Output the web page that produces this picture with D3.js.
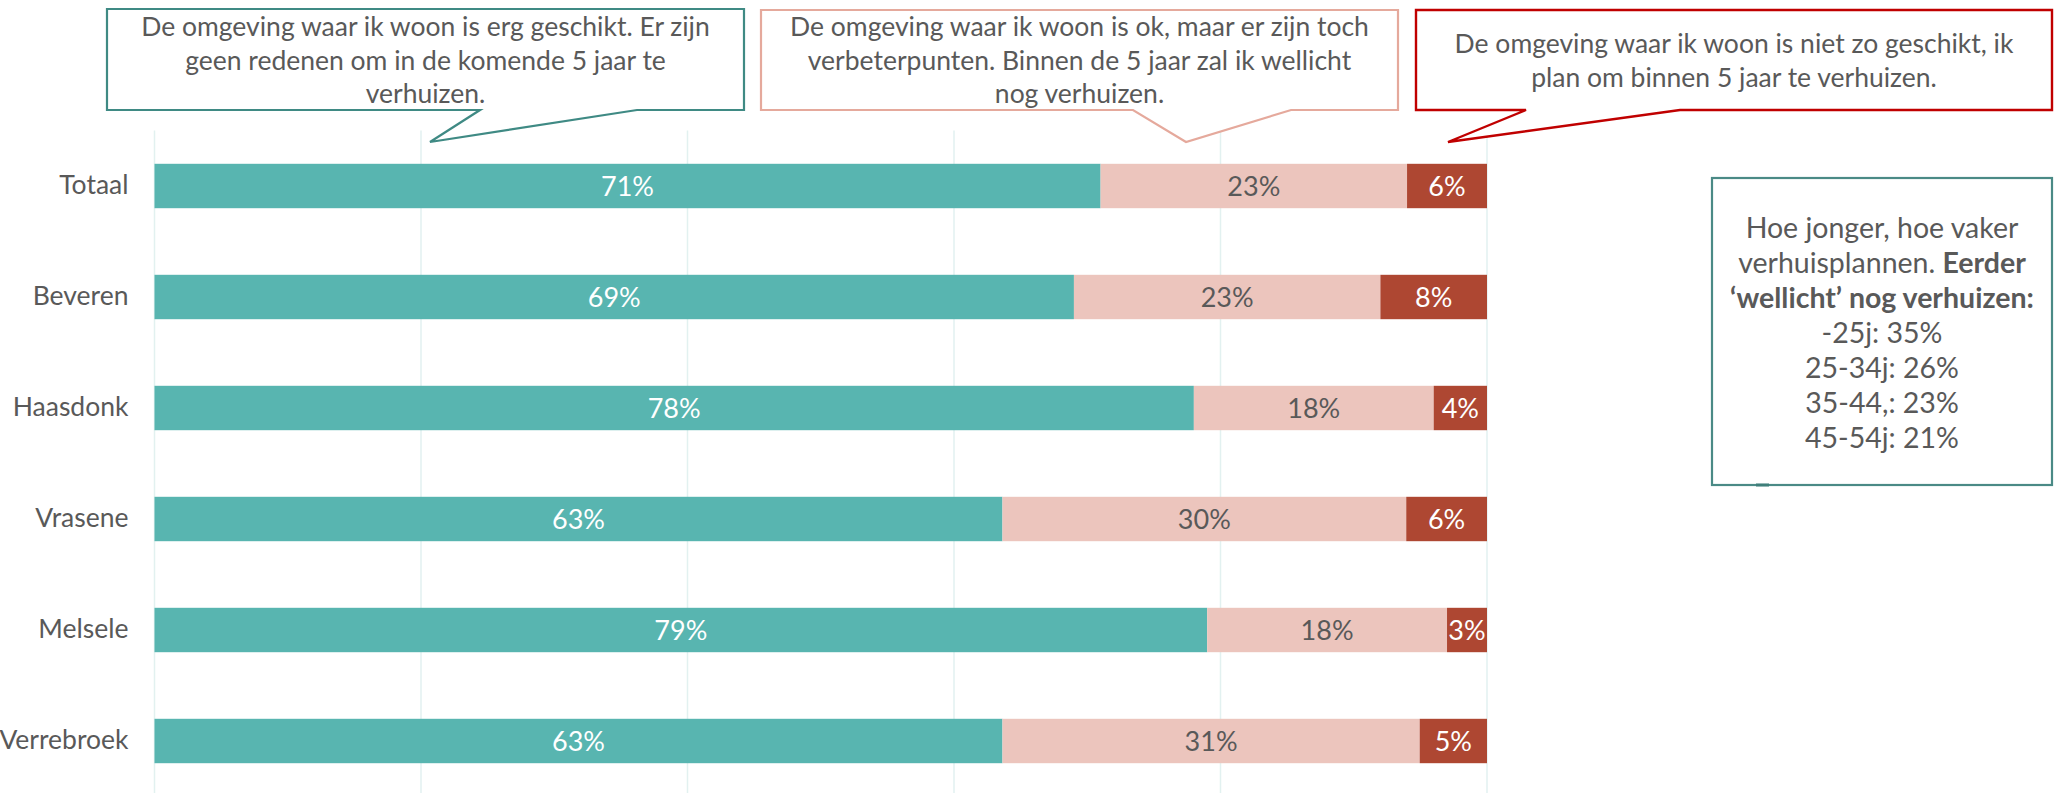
<!DOCTYPE html>
<html>
<head>
<meta charset="utf-8">
<script src="https://cdn.jsdelivr.net/npm/d3@7/dist/d3.min.js"></script>
<style>
  html, body { margin: 0; padding: 0; background: #ffffff; }
  svg { display: block; font-family: Lato, "Open Sans", sans-serif; }
</style>
</head>
<body>
<svg id="chart" width="2060" height="793"></svg>
<script>
// Woontevredenheid per deelgemeente (100% gestapeld)
const categories = ["Totaal", "Beveren", "Haasdonk", "Vrasene", "Melsele", "Verrebroek"];
const seriesKeys = ["geschikt", "ok", "nietGeschikt"];
const geschikt     = [71, 69, 78, 63, 79, 63];
const ok           = [23, 23, 18, 30, 18, 31];
const nietGeschikt = [6, 8, 4, 6, 3, 5];
const xTicks = [0, 0.2, 0.4, 0.6, 0.8, 1];

// Legend callouts, one per series
const seriesLabels = [
  ["De omgeving waar ik woon is erg geschikt. Er zijn", "geen redenen om in de komende 5 jaar te", "verhuizen."],
  ["De omgeving waar ik woon is ok, maar er zijn toch", "verbeterpunten. Binnen de 5 jaar zal ik wellicht", "nog verhuizen."],
  ["De omgeving waar ik woon is niet zo geschikt, ik", "plan om binnen 5 jaar te verhuizen."]
];

// Side note
const noteLines = [
  [{ t: "Hoe jonger, hoe vaker", b: false }],
  [{ t: "verhuisplannen. ", b: false }, { t: "Eerder", b: true }],
  [{ t: "\u2018wellicht\u2019 nog verhuizen:", b: true }],
  [{ t: "-25j: 35%", b: false }],
  [{ t: "25-34j: 26%", b: false }],
  [{ t: "35-44,: 23%", b: false }],
  [{ t: "45-54j: 21%", b: false }]
];

const colors = { geschikt: "#58b5b0", ok: "#ecc5bd", nietGeschikt: "#ae4732" };
const labelColors = { geschikt: "#ffffff", ok: "#595959", nietGeschikt: "#ffffff" };
const textColor = "#595959";

const rows = categories.map((c, i) => ({
  category: c, geschikt: geschikt[i], ok: ok[i], nietGeschikt: nietGeschikt[i]
}));

const svg = d3.select("#chart");

const x = d3.scaleLinear().domain([0, 1]).range([154.5, 1487]);
const y = d3.scaleBand().domain(categories).range([130.5, 796.5])
  .paddingInner(0.6).paddingOuter(0.3);

// Vertical gridlines
svg.append("g")
  .selectAll("line")
  .data(xTicks)
  .join("line")
  .attr("x1", d => x(d)).attr("x2", d => x(d))
  .attr("y1", y.range()[0]).attr("y2", 793)
  .attr("stroke", "#e2f1f0")
  .attr("stroke-width", 1.5);

// Stacked bars, normalised per row
const stack = d3.stack().keys(seriesKeys).offset(d3.stackOffsetExpand);
const layers = stack(rows);

const gBars = svg.append("g");
layers.forEach(layer => {
  const key = layer.key;
  const g = gBars.append("g");
  g.selectAll("rect")
    .data(layer)
    .join("rect")
    .attr("x", d => x(d[0]))
    .attr("y", d => y(d.data.category))
    .attr("width", d => x(d[1]) - x(d[0]))
    .attr("height", y.bandwidth())
    .attr("fill", colors[key]);
  g.selectAll("text")
    .data(layer)
    .join("text")
    .attr("x", d => (x(d[0]) + x(d[1])) / 2)
    .attr("y", d => y(d.data.category) + y.bandwidth() / 2)
    .attr("dy", "0.36em")
    .attr("text-anchor", "middle")
    .attr("font-size", 27)
    .attr("fill", labelColors[key])
    .text(d => d.data[key] + "%");
});

// Category axis (labels only)
const yAxis = svg.append("g")
  .attr("transform", `translate(${x(0) - 26},0)`)
  .call(d3.axisLeft(y).tickSize(0).tickPadding(0));
yAxis.select(".domain").remove();
yAxis.selectAll("text")
  .attr("font-family", "Lato, sans-serif")
  .attr("font-size", 26.5)
  .attr("fill", textColor);

// Callout boxes with pointer
const callouts = [
  { box: [107, 9, 744, 110], base: [480, 637], tip: [430, 142], stroke: "#3f8a84", sw: 2.2, cx: 425.5, y0: 36, lh: 33.5 },
  { box: [761, 10, 1398, 110], base: [1133, 1291], tip: [1186, 142], stroke: "#e5a99c", sw: 2.2, cx: 1079.5, y0: 36, lh: 33.5 },
  { box: [1416, 10, 2052, 110], base: [1526, 1680], tip: [1448, 142], stroke: "#c00000", sw: 2.4, cx: 1734, y0: 53, lh: 34 }
];

callouts.forEach((c, i) => {
  const [l, t, r, b] = c.box;
  const p = d3.path();
  p.moveTo(l, t);
  p.lineTo(r, t);
  p.lineTo(r, b);
  p.lineTo(c.base[1], b);
  p.lineTo(c.tip[0], c.tip[1]);
  p.lineTo(c.base[0], b);
  p.lineTo(l, b);
  p.closePath();
  svg.append("path")
    .attr("d", p.toString())
    .attr("fill", "#ffffff")
    .attr("stroke", c.stroke)
    .attr("stroke-width", c.sw)
    .attr("stroke-linejoin", "miter");
  svg.append("g")
    .selectAll("text")
    .data(seriesLabels[i])
    .join("text")
    .attr("x", c.cx)
    .attr("y", (d, j) => c.y0 + j * c.lh)
    .attr("text-anchor", "middle")
    .attr("font-size", 26.5)
    .attr("fill", textColor)
    .text(d => d);
});

// Side note box
svg.append("rect")
  .attr("x", 1712).attr("y", 178)
  .attr("width", 340).attr("height", 307)
  .attr("fill", "#ffffff")
  .attr("stroke", "#4a8a86")
  .attr("stroke-width", 2.2);
svg.append("line")
  .attr("x1", 1756).attr("x2", 1769)
  .attr("y1", 485).attr("y2", 485)
  .attr("stroke", "#3f7f7a")
  .attr("stroke-width", 3);

const note = svg.append("text")
  .attr("text-anchor", "middle")
  .attr("font-size", 28.5)
  .attr("fill", textColor);
noteLines.forEach((line, j) => {
  const row = note.append("tspan")
    .attr("x", 1882)
    .attr("y", 238 + j * 35);
  line.forEach((seg, k) => {
    const s = k === 0 ? row : note.append("tspan");
    s.attr("font-weight", seg.b ? 700 : 400).text(seg.t);
  });
});
</script>
</body>
</html>
